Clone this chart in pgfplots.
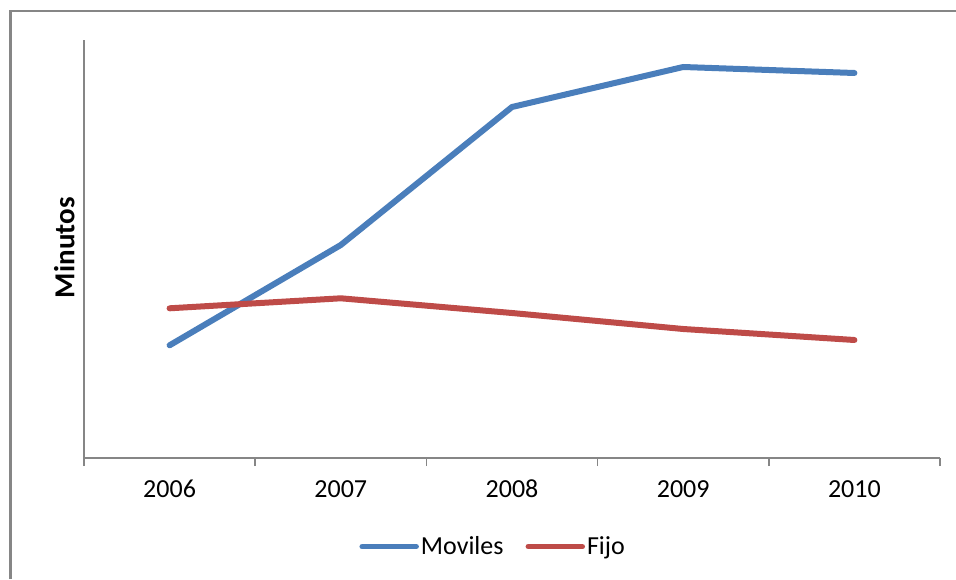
\documentclass[border=0pt]{standalone}
\usepackage{pgfplots}
\pgfplotsset{compat=1.18}
\usepackage{fontspec}
\setmainfont{Carlito}
\definecolor{blueS}{RGB}{74,126,187}
\definecolor{redS}{RGB}{190,75,72}
\definecolor{axgray}{RGB}{134,134,134}
\begin{document}
\begin{tikzpicture}[x=1pt,y=1pt]
\useasboundingbox (0,0) rectangle (956,579);
\draw[axgray, line width=2.7pt] (10.7,0) -- (10.7,568) -- (960,568);
\begin{axis}[
  at={(84pt,121pt)}, anchor=south west,
  scale only axis, width=856pt, height=418pt,
  xmin=-0.5, xmax=4.5, ymin=0, ymax=418,
  axis x line*=bottom, axis y line*=left,
  axis line style={axgray, line width=2.2pt},
  xtick={0,1,2,3,4}, xticklabels={2006,2007,2008,2009,2010},
  major tick length=0pt,
  minor xtick={-0.5,0.5,1.5,2.5,3.5,4.5},
  minor tick length=8pt, tick align=outside,
  minor tick style={axgray, line width=1.6pt},
  ytick=\empty,
  xticklabel style={font=\fontsize{26}{30}\selectfont, anchor=north, inner sep=0pt, yshift=-22pt},
  ylabel={\bfseries Minutos},
  ylabel style={font=\fontsize{29}{33}\selectfont, at={(axis description cs:-0.0230,0.503)}, anchor=center},
  legend style={at={(axis description cs:0.478,-0.212)}, anchor=center, draw=none, fill=none,
    font=\fontsize{26}{30}\selectfont, nodes={inner sep=2pt},
    /tikz/every even column/.append style={column sep=20pt}},
  legend columns=2,
  legend image code/.code={\draw[#1, line width=5.5pt, line cap=round] (0pt,0pt) -- (54pt,0pt);},
]
\addplot[blueS, line width=6pt, line cap=round, line join=round] coordinates {
  (0,112.7) (1,213) (2,351) (3,391) (4,385)};
\addlegendentry{Moviles}
\addplot[redS, line width=6pt, line cap=round, line join=round] coordinates {
  (0,149.7) (1,159.7) (2,145) (3,129) (4,118)};
\addlegendentry{Fijo}
\end{axis}
\end{tikzpicture}
\end{document}
